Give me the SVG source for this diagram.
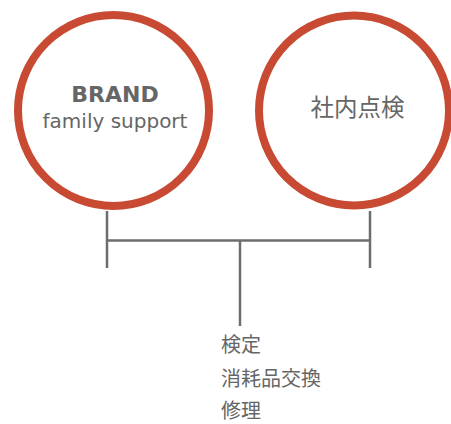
<svg xmlns="http://www.w3.org/2000/svg" width="451" height="424" viewBox="0 0 451 424">
<style>
.ring{fill:#fff;stroke:#c94a32;stroke-width:8}
.conn{stroke:#6d6d6d;stroke-width:2.5;fill:none}
.t{fill:#666;font-family:"DejaVu Sans","Noto Sans CJK JP",sans-serif}
.j{fill:#666;font-family:"Noto Sans CJK JP",sans-serif}
</style>
<rect width="451" height="424" fill="#fff"/>
<g id="connectors">
<path class="conn" d="M107 211V268M370 211V268M107 240.5H370M240 240.5V326"/>
</g>
<g id="brand">
<circle class="ring" cx="113.5" cy="110.5" r="95.5"/>
<text class="t" x="115" y="102" text-anchor="middle" font-size="22" font-weight="bold">BRAND</text>
<text class="t" x="115" y="128" text-anchor="middle" font-size="20">family support</text>
</g>
<g id="inspection">
<circle class="ring" cx="354" cy="110.5" r="95"/>
<text class="j" x="357.5" y="116" text-anchor="middle" font-size="23.5">社内点検</text>
</g>
<g id="services">
<text class="j" x="221" y="352" font-size="20">検定</text>
<text class="j" x="221" y="386" font-size="20">消耗品交換</text>
<text class="j" x="221" y="418" font-size="20">修理</text>
</g>
</svg>
